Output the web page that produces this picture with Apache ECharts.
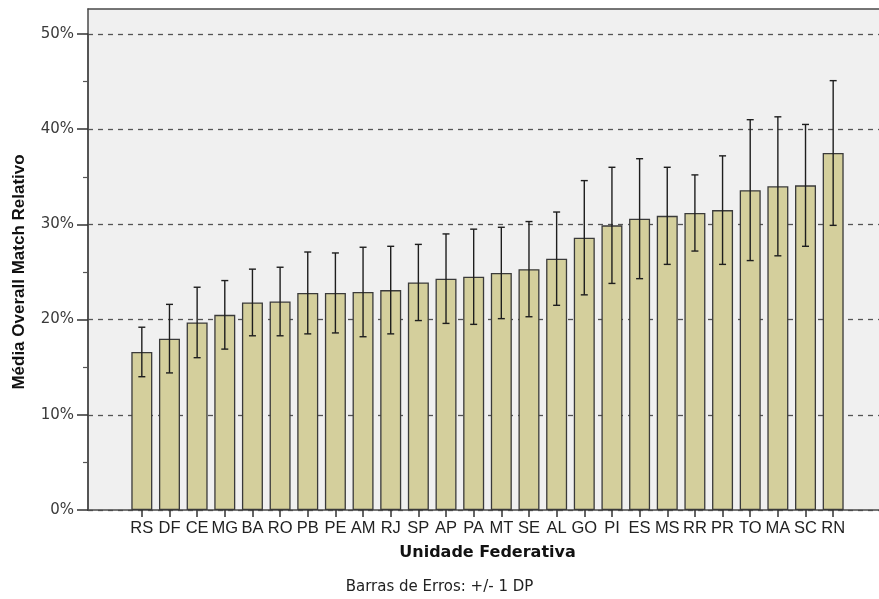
<!DOCTYPE html>
<html>
<head>
<meta charset="utf-8">
<script src="https://cdn.jsdelivr.net/npm/echarts@6/dist/echarts.min.js"></script>
<style>
  html, body { margin: 0; padding: 0; background: #ffffff; }
  #chart { width: 879px; height: 599px; }
</style>
</head>
<body>
<div id="chart"></div>
<script>
// Unidades federativas, ordered by mean
const ufs = ['RS','DF','CE','MG','BA','RO','PB','PE','AM','RJ','SP','AP','PA','MT','SE','AL','GO','PI','ES','MS','RR','PR','TO','MA','SC','RN'];
// Média Overall Match Relativo (%)
const means = [16.6, 18.0, 19.7, 20.5, 21.8, 21.9, 22.8, 22.8, 22.9, 23.1, 23.9, 24.3, 24.5, 24.9, 25.3, 26.4, 28.6, 29.9, 30.6, 30.9, 31.2, 31.5, 33.6, 34.0, 34.1, 37.5];
// Desvio padrão (%)
const sds = [2.6, 3.6, 3.7, 3.6, 3.5, 3.6, 4.3, 4.2, 4.7, 4.6, 4.0, 4.7, 5.0, 4.8, 5.0, 4.9, 6.0, 6.1, 6.3, 5.1, 4.0, 5.7, 7.4, 7.3, 6.4, 7.6];
// Y axis tick values (%)
const yTicks = [0, 10, 20, 30, 40, 50];

const errData = ufs.map((u, i) => [i, means[i] - sds[i], means[i] + sds[i]]);

const chart = echarts.init(document.getElementById('chart'), null, { renderer: 'canvas' });

const frameLine = { show: true, onZero: false, lineStyle: { color: '#4a4a4a', width: 1.5 } };

const option = {
  backgroundColor: '#ffffff',
  animation: false,
  grid: [
    // plot area with grey background; its right side runs off the page
    { left: 88, width: 800, top: 9, bottom: 89, show: true, backgroundColor: '#f0f0f0', borderWidth: 0, outerBoundsMode: 'none' },
    // value axis with dashed gridlines
    { left: 88, width: 800, top: 34, bottom: 89, outerBoundsMode: 'none' },
    // bars
    { left: 128, right: 32, top: 34, bottom: 89 }
  ],
  xAxis: [
    // top edge of the frame
    { gridIndex: 0, type: 'value', position: 'top', min: 0, max: 1, axisLine: frameLine, axisTick: { show: false }, axisLabel: { show: false }, splitLine: { show: false } },
    // bottom edge (baseline)
    { gridIndex: 1, type: 'value', position: 'bottom', min: 0, max: 1, axisLine: frameLine, axisTick: { show: false }, axisLabel: { show: false }, splitLine: { show: false } },
    {
      gridIndex: 2, type: 'category', data: ufs,
      name: 'Unidade Federativa', nameLocation: 'middle', nameGap: 35,
      nameTextStyle: { fontFamily: 'DejaVu Sans', fontWeight: 'bold', fontSize: 16, color: '#111' },
      axisLine: { show: false },
      axisTick: { show: true, alignWithLabel: true, length: 7, lineStyle: { color: '#333', width: 1.5 } },
      axisLabel: { interval: 0, hideOverlap: false, margin: 10, fontFamily: 'Liberation Sans', fontSize: 16.5, color: '#222' }
    }
  ],
  yAxis: [
    // left edge of the frame
    { gridIndex: 0, type: 'value', min: 0, max: 1, axisLine: frameLine, axisTick: { show: false }, axisLabel: { show: false }, splitLine: { show: false } },
    {
      gridIndex: 1, type: 'value', min: 0, max: yTicks[yTicks.length - 1], interval: 10,
      name: 'Média Overall Match Relativo', nameLocation: 'middle', nameGap: 60,
      nameTextStyle: { fontFamily: 'Liberation Sans', fontWeight: 'bold', fontSize: 17, color: '#111' },
      axisLine: frameLine,
      axisTick: { show: true, length: 11, lineStyle: { color: '#333', width: 1.5 } },
      minorTick: { show: true, splitNumber: 2, length: 5, lineStyle: { color: '#555', width: 1.2 } },
      axisLabel: { margin: 14, fontFamily: 'DejaVu Sans', fontSize: 15, color: '#3a3a3a', formatter: '{value}%' },
      splitLine: { show: true, lineStyle: { color: '#555', width: 1.3, type: [5, 5] } }
    },
    { gridIndex: 2, type: 'value', show: false, min: 0, max: yTicks[yTicks.length - 1] }
  ],
  graphic: [
    {
      type: 'text', left: 'center', top: 580,
      style: { text: 'Barras de Erros: +/- 1 DP', fontFamily: 'DejaVu Sans', fontSize: 15, fill: '#222' }
    }
  ],
  series: [
    {
      type: 'bar', xAxisIndex: 2, yAxisIndex: 2, data: means, barWidth: 21,
      itemStyle: { color: '#d4cf9c', borderColor: '#3a3a3a', borderWidth: 1.3 },
      z: 3
    },
    {
      type: 'custom', xAxisIndex: 2, yAxisIndex: 2, data: errData, z: 4,
      renderItem: function (params, api) {
        const x = api.value(0);
        const lo = api.coord([x, api.value(1)]);
        const hi = api.coord([x, api.value(2)]);
        const cap = 3.5;
        const style = { stroke: '#1e1e1e', lineWidth: 1.4 };
        return {
          type: 'group',
          children: [
            { type: 'line', shape: { x1: hi[0], y1: hi[1], x2: lo[0], y2: lo[1] }, style: style },
            { type: 'line', shape: { x1: hi[0] - cap, y1: hi[1], x2: hi[0] + cap, y2: hi[1] }, style: style },
            { type: 'line', shape: { x1: lo[0] - cap, y1: lo[1], x2: lo[0] + cap, y2: lo[1] }, style: style }
          ]
        };
      }
    }
  ]
};

chart.setOption(option);
</script>
</body>
</html>
